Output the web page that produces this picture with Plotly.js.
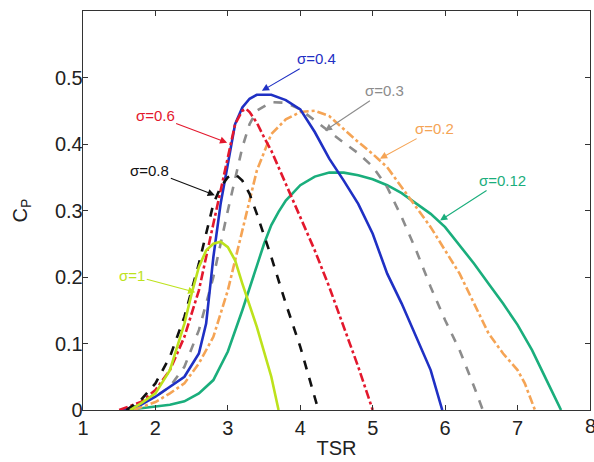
<!DOCTYPE html>
<html><head><meta charset="utf-8">
<script src="https://cdn.plot.ly/plotly-3.0.1.min.js"></script>
<style>body{margin:0;background:#fff}#c{width:594px;height:462px}</style>
</head><body><div id="c"></div>
<script>
// sigma = 0.12 (green solid)
const x012 = [1.6,1.8,2.0,2.2,2.4,2.6,2.8,3.0,3.2,3.4,3.5,3.6,3.7,3.8,4.0,4.2,4.4,4.6,4.8,5.0,5.2,5.4,5.6,5.8,6.0,6.2,6.4,6.6,6.8,7.0,7.2,7.4,7.6];
const y012 = [0,0.003,0.006,0.008,0.013,0.025,0.045,0.088,0.15,0.215,0.25,0.278,0.298,0.315,0.338,0.351,0.357,0.357,0.353,0.347,0.338,0.326,0.31,0.295,0.275,0.248,0.22,0.19,0.16,0.128,0.09,0.045,0];
// sigma = 0.2 (orange dash-dot)
const x02 = [1.7,2.0,2.2,2.4,2.6,2.8,3.0,3.2,3.4,3.6,3.8,4.0,4.2,4.4,4.6,4.8,5.0,5.2,5.4,5.6,5.8,6.0,6.2,6.4,6.6,6.8,7.0,7.1,7.24];
const y02 = [0,0.012,0.025,0.04,0.07,0.11,0.18,0.27,0.36,0.415,0.437,0.448,0.45,0.442,0.422,0.403,0.385,0.365,0.335,0.305,0.275,0.24,0.205,0.16,0.115,0.085,0.06,0.04,0];
// sigma = 0.3 (gray dashed)
const x03 = [1.6,1.8,2.0,2.2,2.4,2.6,2.8,3.0,3.1,3.2,3.3,3.4,3.6,3.8,4.0,4.2,4.4,4.6,4.8,5.0,5.2,5.4,5.6,5.8,6.0,6.2,6.4,6.52];
const y03 = [0,0.01,0.02,0.035,0.065,0.12,0.2,0.3,0.35,0.395,0.43,0.45,0.463,0.462,0.452,0.435,0.418,0.402,0.386,0.366,0.335,0.29,0.24,0.185,0.135,0.09,0.035,0];
// sigma = 0.4 (blue solid)
const x04 = [1.55,1.8,2.0,2.2,2.4,2.6,2.7,2.8,2.9,3.0,3.1,3.2,3.3,3.4,3.6,3.8,4.0,4.2,4.4,4.6,4.8,5.0,5.2,5.4,5.6,5.8,5.96];
const y04 = [0,0.008,0.02,0.035,0.05,0.085,0.13,0.23,0.31,0.37,0.43,0.455,0.468,0.474,0.474,0.466,0.452,0.418,0.378,0.345,0.31,0.265,0.205,0.16,0.11,0.06,0];
// sigma = 0.6 (red dash-dot)
const x06 = [1.5,1.8,2.0,2.2,2.4,2.6,2.8,2.9,3.0,3.1,3.2,3.25,3.3,3.4,3.5,3.6,3.8,4.0,4.2,4.4,4.6,4.8,5.0];
const y06 = [0,0.012,0.03,0.06,0.11,0.18,0.28,0.33,0.385,0.43,0.45,0.453,0.448,0.432,0.41,0.39,0.34,0.29,0.24,0.185,0.125,0.065,0];
// sigma = 0.8 (black dashed)
const x08 = [1.6,1.8,2.0,2.2,2.4,2.6,2.8,2.9,3.0,3.1,3.2,3.3,3.4,3.6,3.8,4.0,4.25];
const y08 = [0,0.015,0.04,0.08,0.14,0.22,0.31,0.335,0.35,0.355,0.345,0.325,0.295,0.23,0.16,0.095,0];
// sigma = 1 (yellow-green solid)
const x1 = [1.65,1.8,2.0,2.2,2.4,2.5,2.6,2.7,2.8,2.9,3.0,3.1,3.2,3.4,3.6,3.7];
const y1 = [0,0.01,0.025,0.06,0.13,0.175,0.215,0.24,0.25,0.253,0.245,0.225,0.19,0.125,0.05,0];

const xTicks = [1,2,3,4,5,6,7,8];
const xTickText = ['1','2','3','4','5','6','7',''];   // last label ('8') sits on the frame edge, drawn below
const xEdgeLabel = '8';
const yTicks = [0,0.1,0.2,0.3,0.4,0.5];
const yTickText = ['0','0.1','0.2','0.3','0.4','0.5'];

const cGreen='#1aae7c', cOrange='#f5a455', cGray='#8c8c8c', cBlue='#1f30c4', cRed='#e3182d', cBlack='#111111', cYellow='#bde21c';

const mk = (x,y,color,dash)=>({x:x,y:y,type:'scatter',mode:'lines',line:{color:color,width:2.6,dash:dash},hoverinfo:'skip'});
const data = [
  mk(x012,y012,cGreen,'solid'),
  mk(x02,y02,cOrange,'dashdot'),
  mk(x03,y03,cGray,'dash'),
  mk(x04,y04,cBlue,'solid'),
  mk(x06,y06,cRed,'dashdot'),
  mk(x08,y08,cBlack,'dash'),
  mk(x1,y1,cYellow,'solid')
];

const ann = (text,x,y,ax,ay,color)=>({text:text,x:x,y:y,ax:ax,ay:ay,xref:'x',yref:'y',showarrow:true,arrowhead:2,arrowsize:1.3,arrowwidth:1.1,arrowcolor:color,font:{family:'Liberation Sans, Arial, sans-serif',size:15,color:color}});
const annotations = [
  ann('σ=0.4',3.47,0.48,55,-32,cBlue),
  ann('σ=0.6',2.99,0.402,-72,-27,cRed),
  ann('σ=0.8',2.82,0.323,-65,-25,cBlack),
  ann('σ=1',2.55,0.177,-63,-17,cYellow),
  ann('σ=0.3',4.34,0.42,60,-40,cGray),
  ann('σ=0.2',5.1,0.378,55,-30,cOrange),
  ann('σ=0.12',5.93,0.285,62,-40,cGreen),
  {text:xEdgeLabel,x:xTicks[xTicks.length-1],xref:'x',y:0,yref:'paper',yanchor:'top',xanchor:'center',yshift:-3,showarrow:false,font:{family:'Liberation Sans, Arial, sans-serif',size:20,color:'#222'}}
];

const layout = {
  width:594,height:462,
  margin:{l:83,r:4,t:11,b:52},
  paper_bgcolor:'#fff',plot_bgcolor:'#fff',
  showlegend:false,
  font:{family:'Liberation Sans, Arial, sans-serif',color:'#222'},
  xaxis:{range:[1,8],tickvals:xTicks,ticktext:xTickText,ticks:'inside',ticklen:5,tickcolor:'#333',showline:true,linecolor:'#333',linewidth:1.3,mirror:'ticks',showgrid:false,zeroline:false,tickfont:{size:20,color:'#222'},
    title:{text:'TSR',font:{size:20,color:'#222'},standoff:2}},
  yaxis:{range:[0,0.6],tickvals:yTicks,ticktext:yTickText,ticks:'inside',ticklen:5,tickcolor:'#333',showline:true,linecolor:'#333',linewidth:1.3,mirror:'ticks',showgrid:false,zeroline:false,ticklabelstandoff:-5,tickfont:{size:20,color:'#222'},
    title:{text:'C<sub>P</sub>',font:{size:20,color:'#222'},standoff:22}},
  annotations:annotations
};
Plotly.newPlot('c',data,layout,{staticPlot:true});
</script></body></html>
